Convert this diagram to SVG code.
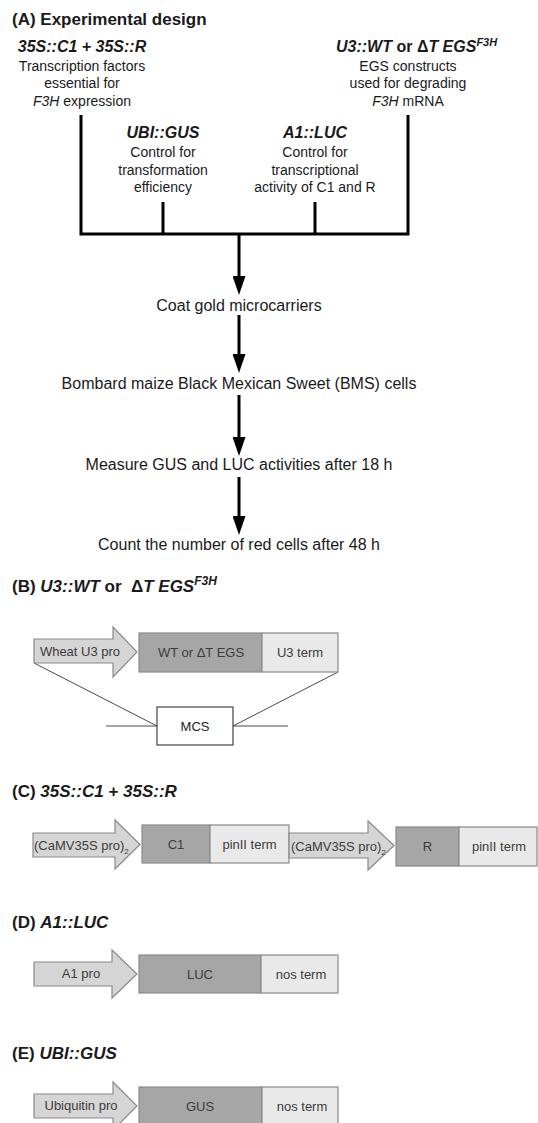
<svg xmlns="http://www.w3.org/2000/svg" width="538" height="1123" viewBox="0 0 538 1123">
<defs>
<style>
text{font-family:"Liberation Sans",Arial,sans-serif;fill:#1a1a1a}
.ttl{font-size:17px;font-weight:bold}
.hd{font-size:16px;font-weight:bold;font-style:italic}
.ds{font-size:14px;text-anchor:middle}
.fl{font-size:16px;text-anchor:middle}
.lb{font-size:13px;text-anchor:middle;fill:#3c3c3c}
.st{text-anchor:start}
.it{font-style:italic}
.up{font-style:normal}
.pro{fill:#d5d5d5;stroke:#8a8a8a;stroke-width:1.2}
.gene{fill:#a6a6a6;stroke:#8a8a8a;stroke-width:1.2}
.term{fill:#e9e9e9;stroke:#8a8a8a;stroke-width:1.2}
.thick{fill:none;stroke:#000;stroke-width:3}
.thin{fill:none;stroke:#4a4a4a;stroke-width:1}
</style>
<marker id="ah" markerUnits="userSpaceOnUse" viewBox="0 0 19 13" markerWidth="19" markerHeight="13" refX="9" refY="6.5" orient="auto">
<path d="M0,0 L19,6.5 L0,13 z" fill="#000"/>
</marker>
</defs>
<rect width="538" height="1123" fill="#fff"/>

<!-- Panel A -->
<text class="ttl" x="12" y="25">(A) Experimental design</text>

<g id="n-35S">
<text class="hd" x="82" y="52" text-anchor="middle">35S::C1 + 35S::R</text>
<text class="ds" x="82" y="71">Transcription factors</text>
<text class="ds" x="82" y="88">essential for</text>
<text class="ds" x="82" y="106"><tspan class="it">F3H</tspan> expression</text>
</g>

<g id="n-U3">
<text class="hd" x="336" y="52">U3::WT<tspan class="up"> or </tspan><tspan class="up">Δ</tspan>T EGS<tspan dy="-6" font-size="11">F3H</tspan></text>
<text class="ds" x="408" y="71">EGS constructs</text>
<text class="ds" x="408" y="88">used for degrading</text>
<text class="ds" x="408" y="106"><tspan class="it">F3H</tspan> mRNA</text>
</g>

<g id="n-UBI">
<text class="hd" x="163" y="138" text-anchor="middle">UBI::GUS</text>
<text class="ds" x="163" y="157">Control for</text>
<text class="ds" x="163" y="175">transformation</text>
<text class="ds" x="163" y="192">efficiency</text>
</g>

<g id="n-A1">
<text class="hd" x="315" y="138" text-anchor="middle">A1::LUC</text>
<text class="ds" x="315" y="157">Control for</text>
<text class="ds" x="315" y="175">transcriptional</text>
<text class="ds" x="315" y="192">activity of C1 and R</text>
</g>

<g id="n-coat"><text class="fl" x="239" y="311">Coat gold microcarriers</text></g>
<g id="n-bombard"><text class="fl" x="239" y="389">Bombard maize Black Mexican Sweet (BMS) cells</text></g>
<g id="n-measure"><text class="fl" x="239" y="470">Measure GUS and LUC activities after 18 h</text></g>
<g id="n-count"><text class="fl" x="239" y="550">Count the number of red cells after 48 h</text></g>

<g id="connectors">
<path class="thick" d="M81,115 V234 H408 V115 M163,202 V234 M315,202 V234"/>
<line class="thick" x1="239" y1="234" x2="239" y2="285" marker-end="url(#ah)"/>
<line class="thick" x1="239" y1="315" x2="239" y2="363" marker-end="url(#ah)"/>
<line class="thick" x1="239" y1="395" x2="239" y2="446" marker-end="url(#ah)"/>
<line class="thick" x1="239" y1="477" x2="239" y2="525" marker-end="url(#ah)"/>
<path class="thin" d="M34,663 L157,726 M338,672 L233,726 M106,726 H157 M233,726 H288"/>
</g>

<!-- Panel B -->
<text class="ttl" x="12" y="592">(B) <tspan class="it">U3::WT</tspan> or&#160; Δ<tspan class="it">T EGS</tspan><tspan class="it" dy="-7" font-size="12">F3H</tspan></text>
<g id="b-pro">
<polygon class="pro" points="34,639 113,639 113,627 137,652 113,677 113,663 34,663"/>
<text class="lb" x="80" y="656">Wheat U3 pro</text>
</g>
<g id="b-egs">
<rect class="gene" x="139" y="633" width="123" height="39"/>
<text class="lb" x="201" y="657">WT or ΔT EGS</text>
</g>
<g id="b-term">
<rect class="term" x="262" y="633" width="76" height="39"/>
<text class="lb" x="300" y="657">U3 term</text>
</g>
<g id="b-mcs">
<rect x="157" y="707" width="76" height="38" fill="#fff" stroke="#444" stroke-width="1.2"/>
<text class="lb" x="195" y="731" style="fill:#222">MCS</text>
</g>

<!-- Panel C -->
<text class="ttl" x="12" y="797">(C) <tspan class="it">35S::C1 + 35S::R</tspan></text>
<g id="c-pro1">
<polygon class="pro" points="33,833 115,833 115,820 140,844.5 115,869 115,857 33,857"/>
<text class="lb st" x="34" y="850">(CaMV35S pro)<tspan dy="4" font-size="8">2</tspan></text>
</g>
<g id="c-c1">
<rect class="gene" x="142" y="825" width="68" height="38"/>
<text class="lb" x="176" y="849">C1</text>
</g>
<g id="c-term1">
<rect class="term" x="210" y="825" width="79" height="38"/>
<text class="lb" x="249.5" y="849">pinII term</text>
</g>
<g id="c-pro2">
<polygon class="pro" points="289,833 368,833 368,821 394,845.5 368,870 368,858 289,858"/>
<text class="lb st" x="291" y="851">(CaMV35S pro)<tspan dy="4" font-size="8">2</tspan></text>
</g>
<g id="c-r">
<rect class="gene" x="396" y="827" width="63" height="39"/>
<text class="lb" x="427.5" y="851">R</text>
</g>
<g id="c-term2">
<rect class="term" x="459" y="827" width="78" height="39"/>
<text class="lb" x="499" y="851">pinII term</text>
</g>

<!-- Panel D -->
<text class="ttl" x="12" y="928">(D) <tspan class="it">A1::LUC</tspan></text>
<g id="d-pro">
<polygon class="pro" points="34,962 112,962 112,950 137,974 112,998 112,986 34,986"/>
<text class="lb" x="81" y="978">A1 pro</text>
</g>
<g id="d-luc">
<rect class="gene" x="139" y="955" width="122" height="38"/>
<text class="lb" x="200" y="979">LUC</text>
</g>
<g id="d-term">
<rect class="term" x="261" y="955" width="77" height="38"/>
<text class="lb" x="301" y="979">nos term</text>
</g>

<!-- Panel E -->
<text class="ttl" x="12" y="1059">(E) <tspan class="it">UBI::GUS</tspan></text>
<g id="e-pro">
<polygon class="pro" points="34,1094 113,1094 113,1082 137,1106 113,1130 113,1118 34,1118"/>
<text class="lb" x="81" y="1110">Ubiquitin pro</text>
</g>
<g id="e-gus">
<rect class="gene" x="139" y="1087" width="123" height="38"/>
<text class="lb" x="200" y="1111">GUS</text>
</g>
<g id="e-term">
<rect class="term" x="262" y="1087" width="76" height="38"/>
<text class="lb" x="302" y="1111">nos term</text>
</g>
</svg>
